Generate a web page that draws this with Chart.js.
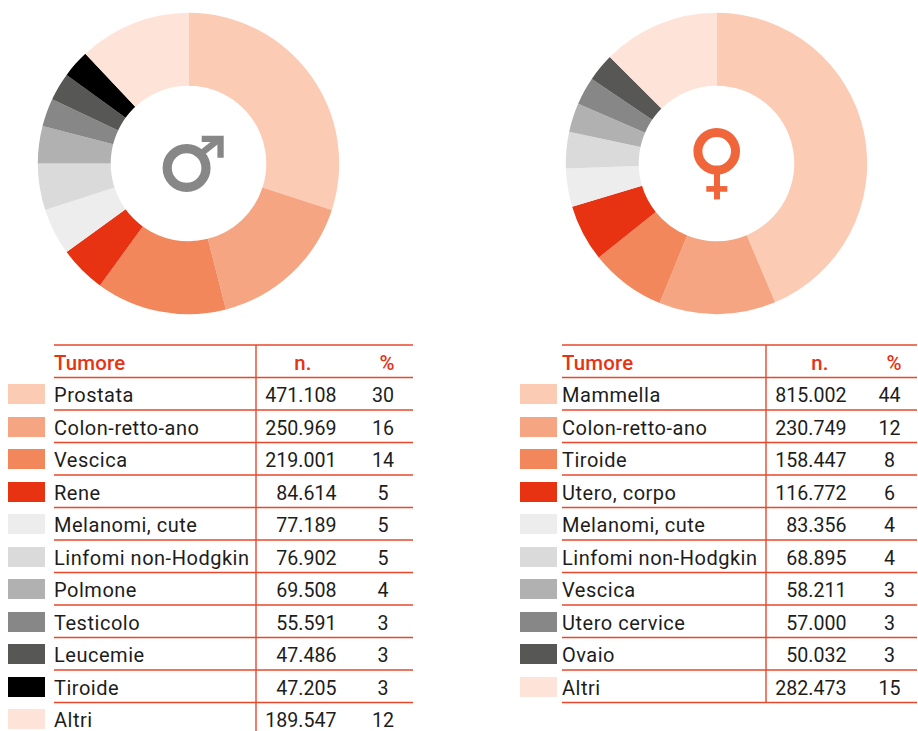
<!DOCTYPE html>
<html lang="it">
<head>
<meta charset="utf-8">
<title>Tumori</title>
<script src="https://cdn.jsdelivr.net/npm/chart.js@4"></script>
<style>
html,body{margin:0;padding:0;background:#fff;width:918px;height:731px;overflow:hidden}
canvas{position:absolute;display:block}
svg{position:absolute;left:0;top:0}
text{font-family:Roboto,sans-serif;font-size:19.6px;fill:#1d1d1b}
.name{font-size:20px;letter-spacing:.52px}
.head{font-size:20.4px;fill:#e73312;font-weight:500;letter-spacing:.2px}
</style>
</head>
<body>
<svg id="tables" width="918" height="731" xmlns="http://www.w3.org/2000/svg"></svg>
<canvas id="male" width="305" height="305" style="left:36px;top:11px"></canvas>
<canvas id="female" width="305" height="305" style="left:564px;top:11px"></canvas>
<svg width="918" height="731" xmlns="http://www.w3.org/2000/svg" style="pointer-events:none">
  <g fill="none" stroke="#878787">
    <circle cx="186.6" cy="168" r="19.4" stroke-width="9.2"/>
    <path d="M200.5 154L220 138.5" stroke-width="6.3"/>
  </g>
  <path fill="#878787" d="M201.7 135.7H223.7V157.7H217.4V142H201.7Z"/>
  <g fill="none" stroke="#f0653a">
    <circle cx="716.7" cy="151.3" r="18.8" stroke-width="9"/>
    <path d="M717 174V199.4" stroke-width="6"/>
    <path d="M706.3 188.9H727.3" stroke-width="5.7"/>
  </g>
</svg>
<script>
const maleCategories = ["Prostata","Colon-retto-ano","Vescica","Rene","Melanomi, cute","Linfomi non-Hodgkin","Polmone","Testicolo","Leucemie","Tiroide","Altri"];
const maleCases = [471108,250969,219001,84614,77189,76902,69508,55591,47486,47205,189547];
const malePercent = [30,16,14,5,5,5,4,3,3,3,12];
const femaleCategories = ["Mammella","Colon-retto-ano","Tiroide","Utero, corpo","Melanomi, cute","Linfomi non-Hodgkin","Vescica","Utero cervice","Ovaio","Altri"];
const femaleCases = [815002,230749,158447,116772,83356,68895,58211,57000,50032,282473];
const femalePercent = [44,12,8,6,4,4,3,3,3,15];
// Slice shares as read from the drawn female ring (they differ a little from the printed, rounded percentages).
const femaleDrawnShare = [43.6,12.5,8.1,6.1,4.1,3.9,3.1,3,3,12.5];
const maleColors = ["#fbcbb4","#f6a582","#f2875c","#e73312","#ededed","#dadada","#b1b1b1","#878787","#575756","#000000","#fee4d8"];
const femaleColors = ["#fbcbb4","#f6a582","#f2875c","#e73312","#ededed","#dadada","#b1b1b1","#878787","#575756","#fee4d8"];
const tableHeaders = ["Tumore","n.","%"];

function ring(id, labels, values, colors){
  new Chart(document.getElementById(id), {
    type: "doughnut",
    data: {labels, datasets: [{data: values, backgroundColor: colors, borderWidth: 0, hoverOffset: 0}]},
    options: {
      responsive: false, animation: false, devicePixelRatio: 1,
      radius: 150.7, cutout: 78.7, rotation: 0, circumference: 360,
      layout: {padding: 0},
      plugins: {legend: {display: false}, tooltip: {enabled: false}}
    }
  });
}
ring("male", maleCategories, malePercent, maleColors);
ring("female", femaleCategories, femaleDrawnShare, femaleColors);

const NS = "http://www.w3.org/2000/svg";
const root = document.getElementById("tables");
function el(tag, attrs, txt){
  const e = document.createElementNS(NS, tag);
  for (const k in attrs) e.setAttribute(k, attrs[k]);
  if (txt !== undefined) e.textContent = txt;
  root.appendChild(e);
}
const fmt = n => String(n).replace(/\B(?=(\d{3})+$)/g, ".");
function table(g){
  const top = 345, pitch = 32.5, n = g.names.length;
  for (let i = 0; i <= g.ruleRows; i++){
    el("line",{x1:g.ruleL,x2:g.ruleR,y1:top+pitch*i,y2:top+pitch*i,stroke:"#e8472b","stroke-width":1.4});
  }
  el("line",{x1:g.vLine,x2:g.vLine,y1:top,y2:g.vEnd,stroke:"#e8472b","stroke-width":1.4});
  el("text",{x:g.ruleL,y:370,class:"head"},tableHeaders[0]);
  el("text",{x:g.nHead,y:370,class:"head","text-anchor":"middle"},tableHeaders[1]);
  el("text",{x:g.pHead,y:370,class:"head","text-anchor":"middle"},tableHeaders[2]);
  for (let i = 0; i < n; i++){
    const base = 402 + pitch*i;
    el("rect",{x:g.swatchX,y:Math.round(384+pitch*i),width:37,height:20,fill:g.colors[i]});
    el("text",{x:g.ruleL,y:base,class:"name"},g.names[i]);
    el("text",{x:g.nRight,y:base,"text-anchor":"end"},fmt(g.cases[i]));
    el("text",{x:g.pMid,y:base,"text-anchor":"middle"},g.pct[i]);
  }
}
table({names:maleCategories,cases:maleCases,pct:malePercent,colors:maleColors,
  swatchX:8,ruleL:54,ruleR:413,vLine:256,vEnd:731,nHead:303,pHead:387,nRight:336.5,pMid:383,ruleRows:11});
table({names:femaleCategories,cases:femaleCases,pct:femalePercent,colors:femaleColors,
  swatchX:520,ruleL:562,ruleR:917,vLine:766,vEnd:702,nHead:820,pHead:894,nRight:846.5,pMid:889.5,ruleRows:11});
</script>
</body>
</html>
